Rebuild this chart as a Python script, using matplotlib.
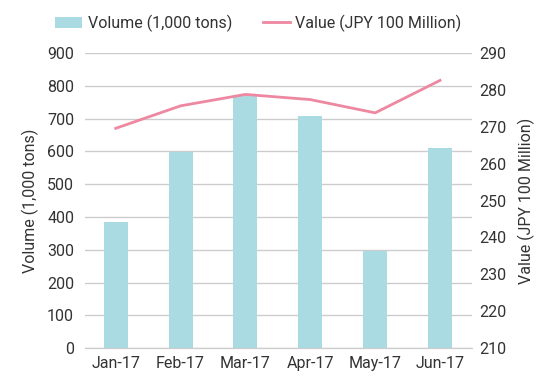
import matplotlib
matplotlib.use("Agg")
import matplotlib.pyplot as plt
import numpy as np

# Data
months = ["Jan-17", "Feb-17", "Mar-17", "Apr-17", "May-17", "Jun-17"]
volume = [386, 598, 772, 707, 296, 611]          # 1,000 tons
value = [269.6, 275.7, 278.8, 277.4, 273.8, 282.6]  # JPY 100 Million

BAR_COLOR = "#aadbe3"
LINE_COLOR = "#ee88a0"
TEXT_COLOR = "#333333"
GRID_COLOR = "#cccccc"

plt.rcParams["font.family"] = ["Roboto", "DejaVu Sans"]
plt.rcParams["font.size"] = 11.5
plt.rcParams["text.color"] = TEXT_COLOR

fig = plt.figure(figsize=(5.5, 3.85), dpi=100)
ax = fig.add_axes([0.155, 0.096, 0.704, 0.766])
ax2 = ax.twinx()

x = np.arange(len(months))
bars = ax.bar(x, volume, width=0.37, color=BAR_COLOR, zorder=2,
              label="Volume (1,000 tons)")
line, = ax2.plot(x, value, color=LINE_COLOR, lw=2.0, zorder=3,
                 label="Value (JPY 100 Million)")

# left axis
ax.set_xlim(-0.47, 5.5)
ax.set_ylim(0, 900)
ax.set_yticks(range(0, 901, 100))
ax.yaxis.grid(True, color=GRID_COLOR, lw=1.0, zorder=0)
ax.set_axisbelow(True)
ax.set_xticks(x)
ax.set_xticklabels(months)
ax.set_ylabel("Volume (1,000 tons)", color=TEXT_COLOR, labelpad=6)

# right axis
ax2.set_ylim(210, 290)
ax2.set_yticks(range(210, 291, 10))
ax2.set_ylabel("Value (JPY 100 Million)", color=TEXT_COLOR, labelpad=8)

for a in (ax, ax2):
    for side in ("top", "left", "right"):
        a.spines[side].set_visible(False)
    a.spines["bottom"].set_color(GRID_COLOR)
    a.tick_params(length=0, colors=TEXT_COLOR, labelsize=11.5)
ax.tick_params(axis="y", pad=8)
ax.tick_params(axis="x", pad=6)
ax2.tick_params(axis="y", pad=5)

fig.legend(handles=[bars, line], loc="upper center", bbox_to_anchor=(0.47, 1.0),
           ncol=2, frameon=False, fontsize=11.5, handlelength=1.7,
           columnspacing=1.9, handletextpad=0.35)

fig.savefig("out.png", dpi=100)
